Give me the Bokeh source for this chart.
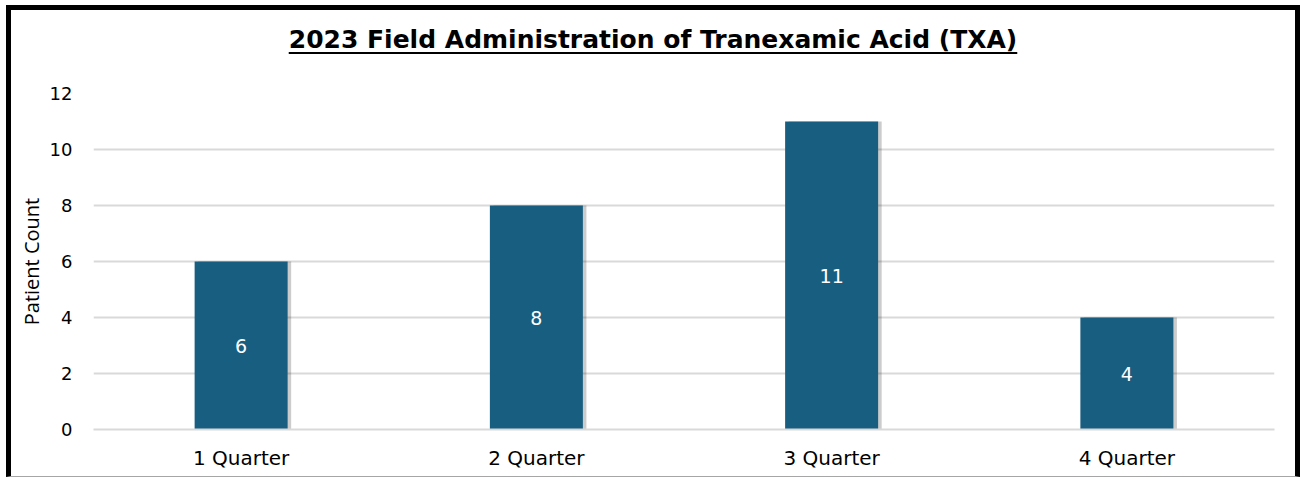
from bokeh.plotting import figure
from bokeh.models import ColumnDataSource, FixedTicker, Div
from bokeh.layouts import column
from bokeh.transform import dodge
from bokeh.core.properties import value
from bokeh.embed import file_html
from bokeh.resources import INLINE

quarters = ["1 Quarter", "2 Quarter", "3 Quarter", "4 Quarter"]
counts = [6, 8, 11, 4]
y_ticks = [0, 2, 4, 6, 8, 10, 12]
title_text = "2023 Field Administration of Tranexamic Acid (TXA)"
y_label = "Patient Count"

src = ColumnDataSource(dict(q=quarters, c=counts, mid=[v / 2 for v in counts],
                            lab=[str(v) for v in counts]))

title = Div(text=f'<div style="margin-top:15px; line-height:30px; text-decoration:underline; '
                 f'text-decoration-thickness:2px; text-underline-offset:4px;">{title_text}</div>',
            width=1284, height=70, margin=0,
            styles={"font-family": "DejaVu Sans", "font-size": "25px", "font-weight": "bold",
                    "text-align": "center", "color": "#000000"})

p = figure(x_range=quarters, y_range=(0, 12), width=1284, height=396,
           output_backend="svg", toolbar_location=None, margin=0,
           min_border_left=82, min_border_right=21, min_border_top=13, min_border_bottom=47)

# shadow
p.vbar(x=dodge("q", 0.012, range=p.x_range), top="c", width=0.315, source=src,
       fill_color="#000000", fill_alpha=0.2, line_color=None)
p.vbar(x="q", top="c", width=0.315, source=src, fill_color="#175e80", line_color=None)
p.text(x="q", y="mid", text="lab", source=src, text_color="white",
       text_align="center", text_baseline="middle", text_font_size="19px",
       text_font=value("DejaVu Sans"))

p.yaxis.ticker = FixedTicker(ticks=y_ticks)
p.ygrid.ticker = FixedTicker(ticks=y_ticks)
p.xgrid.grid_line_color = None
p.ygrid.grid_line_color = "#d9d9d9"
p.ygrid.grid_line_width = 2
p.outline_line_color = None
p.axis.axis_line_color = None
p.axis.major_tick_line_color = None
p.axis.minor_tick_line_color = None
p.xaxis.axis_line_color = "#d9d9d9"
p.xaxis.axis_line_width = 2
p.axis.major_label_text_font = "DejaVu Sans"
p.yaxis.major_label_text_font_size = "18px"
p.xaxis.major_label_text_font_size = "20px"
p.axis.major_label_text_color = "#000000"
p.yaxis.major_label_standoff = 15
p.xaxis.major_label_standoff = 10
p.yaxis.axis_label = y_label
p.yaxis.axis_label_text_font = "Open Sans"
p.yaxis.axis_label_text_font_style = "normal"
p.yaxis.axis_label_text_font_size = "20px"
p.yaxis.axis_label_text_color = "#000000"
p.yaxis.axis_label_standoff = 2

layout = column(title, p, margin=0,
                styles={"border": "5px solid black", "border-bottom": "1px solid #a6a6a6",
                        "margin-left": "6px", "margin-top": "5px"})

open("out.html", "w").write(file_html(layout, INLINE))
